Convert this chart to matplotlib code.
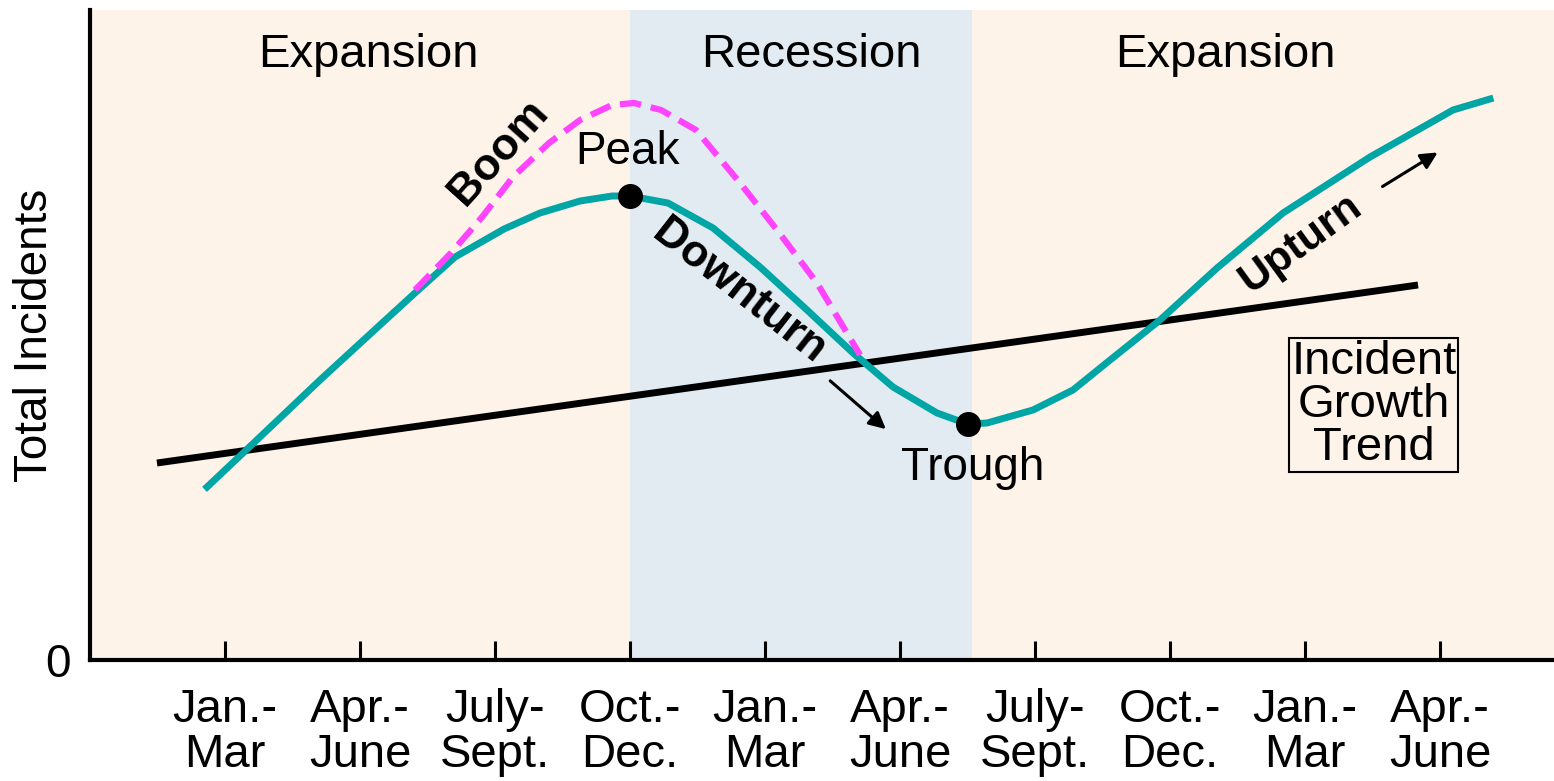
# BUSINESS CYCLE OF INCIDENTS

import matplotlib
matplotlib.use("Agg")
import matplotlib.pyplot as plt
from matplotlib import font_manager

# quarters along the x axis
quarter_labels = ["Jan.-\nMar", "Apr.-\nJune", "July-\nSept.", "Oct.-\nDec.", "Jan.-\nMar",
                  "Apr.-\nJune", "July-\nSept.", "Oct.-\nDec.", "Jan.-\nMar", "Apr.-\nJune"]
quarter_pos = [1, 2, 3, 4, 5, 6, 7, 8, 9, 10]

cycle_x = [0.867, 1.259, 1.704, 2.148, 2.407, 2.704, 3.067, 3.333, 3.630, 3.867, 4.0,
           4.281, 4.615, 4.963, 5.311, 5.652, 5.948, 6.274, 6.5, 6.644, 6.985, 7.281, 7.556,
           7.926, 8.348, 8.837, 9.481, 10.096, 10.37]
cycle_y = [173, 223, 280, 335, 367, 403, 431, 447, 459, 464, 464,
           457, 432, 393, 350, 307, 273, 247, 236, 237, 250, 270, 300,
           340, 392, 447, 503, 550, 561]

# boom path (dashed)
boom_x = [2.407, 2.674, 2.904, 3.133, 3.4, 3.63, 3.867, 4.03, 4.23, 4.489, 4.815, 5.089, 5.385, 5.704]
boom_y = [370, 407, 443, 483, 517, 540, 555, 557, 550, 530, 477, 430, 377, 305]

# growth trend
trend_x = [0.496, 9.837]
trend_y = [197, 375]

peak = (4.0, 464)
trough = (6.5, 236)

# phases
phase_names = ["Expansion", "Recession", "Expansion"]
phase_edges = [0, 4.0, 6.533, 10.844]
phase_label_x = [2.06, 5.34, 8.41]

names = {f.name for f in font_manager.fontManager.ttflist}
base_font = "Liberation Sans" if "Liberation Sans" in names else "DejaVu Sans"
plt.rcParams["font.family"] = [base_font, "DejaVu Sans"]

fig = plt.figure(figsize=(15.54, 7.81), dpi=100)
ax = fig.add_axes([90 / 1554, 1 - 660 / 781, 1 - 90 / 1554, 650 / 781])

phase_colors = ["#fdf3e9", "#e2ebf1", "#fdf3e9"]
for i, name in enumerate(phase_names):
    ax.axvspan(phase_edges[i], phase_edges[i + 1], color=phase_colors[i], lw=0, zorder=0)
    ax.text(phase_label_x[i], 605, name, ha="center", va="center", fontsize=34)

ax.plot(trend_x, trend_y, color="black", lw=5, solid_capstyle="butt", zorder=2)
ax.plot(cycle_x, cycle_y, color="#00a5a5", lw=5, zorder=3)
ax.plot(boom_x, boom_y, color="#ff44ff", lw=4.5, dashes=(3.4, 1.6), zorder=3)
ax.plot([peak[0], trough[0]], [peak[1], trough[1]], "o", color="black", ms=17, zorder=4)

ax.text(3.985, 508, "Peak", ha="center", va="center", fontsize=33)
ax.text(6.54, 192, "Trough", ha="center", va="center", fontsize=33)
ax.text(3.03, 508, "Boom", ha="center", va="center", fontsize=32, fontweight="bold", rotation=48)
ax.text(4.807, 368, "Downturn", ha="center", va="center", fontsize=32, fontweight="bold", rotation=-38)
ax.text(8.963, 417, "Upturn", ha="center", va="center", fontsize=31, fontweight="bold", rotation=36)
ax.text(9.51, 255, "Incident\nGrowth\nTrend", ha="center", va="center", fontsize=34, linespacing=0.98,
        bbox=dict(boxstyle="square,pad=0.04", fc="none", ec="black", lw=1.5))

ax.annotate("", xy=(5.911, 229), xytext=(5.467, 281),
            arrowprops=dict(arrowstyle="-|>", color="black", lw=2.2, mutation_scale=25))
ax.annotate("", xy=(10.0, 509), xytext=(9.556, 472),
            arrowprops=dict(arrowstyle="-|>", color="black", lw=2.2, mutation_scale=25))

ax.set_xlim(0, 10.844)
ax.set_ylim(0, 650)
ax.set_xticks(quarter_pos)
ax.set_xticklabels(quarter_labels, fontsize=34, linespacing=1.05)
ax.set_yticks([0])
ax.set_yticklabels(["0"], fontsize=33)
ax.tick_params(axis="x", direction="in", length=14, width=2.2, pad=20)
ax.tick_params(axis="y", length=0, pad=14)
ax.set_ylabel("Total Incidents", fontsize=33)
ax.yaxis.set_label_coords(-0.0225, 0.5)
for s in ["top", "right"]:
    ax.spines[s].set_visible(False)
for s in ["left", "bottom"]:
    ax.spines[s].set_linewidth(3)

fig.savefig("out.png", dpi=100)
